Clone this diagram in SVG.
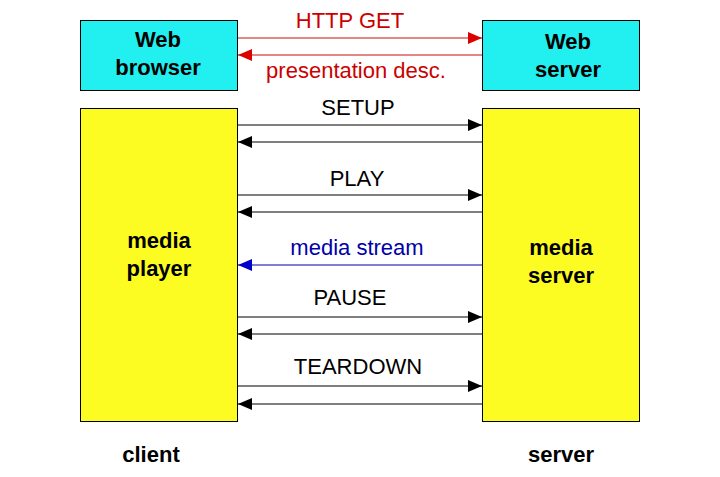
<svg xmlns="http://www.w3.org/2000/svg" width="720" height="477" viewBox="0 0 720 477">
<defs>
<style>
.box{stroke:#000;stroke-width:1}
.cyan{fill:#22F0F0}
.yel{fill:#FCFC22}
.bl{font-family:"Liberation Sans",Arial,sans-serif;font-weight:bold;font-size:22px;fill:#000;text-anchor:middle}
.lbl{font-family:"Liberation Sans",Arial,sans-serif;font-size:22px;text-anchor:middle}
.k{stroke:#000;stroke-width:1.2;fill:none}
.r{stroke:#CC1010;stroke-width:1.2;fill:none}
.b{stroke:#0000AA;stroke-width:1.2;fill:none}
</style>
<marker id="ak" viewBox="0 0 14 12" refX="14" refY="6" markerWidth="14" markerHeight="12" markerUnits="userSpaceOnUse" orient="auto"><path d="M0,0 L14,6 L0,12 Z" fill="#000"/></marker>
<marker id="ar" viewBox="0 0 14 12" refX="14" refY="6" markerWidth="14" markerHeight="12" markerUnits="userSpaceOnUse" orient="auto"><path d="M0,0 L14,6 L0,12 Z" fill="#DD0000"/></marker>
<marker id="ab" viewBox="0 0 14 12" refX="14" refY="6" markerWidth="14" markerHeight="12" markerUnits="userSpaceOnUse" orient="auto"><path d="M0,0 L14,6 L0,12 Z" fill="#0000CC"/></marker>
</defs>
<rect width="720" height="477" fill="#fff"/>
<g id="web-browser"><rect class="box cyan" x="80.5" y="20.5" width="157" height="70"/><text class="bl" x="158" y="47">Web</text><text class="bl" x="158" y="75">browser</text></g>
<g id="web-server"><rect class="box cyan" x="482.5" y="20.5" width="157" height="70"/><text class="bl" x="568" y="49">Web</text><text class="bl" x="568" y="77">server</text></g>
<g id="media-player"><rect class="box yel" x="80.5" y="108.5" width="157" height="313"/><text class="bl" x="159" y="248">media</text><text class="bl" x="159" y="276">player</text></g>
<g id="media-server"><rect class="box yel" x="482.5" y="108.5" width="157" height="313"/><text class="bl" x="561" y="255">media</text><text class="bl" x="561" y="283">server</text></g>
<g id="client"><text class="bl" x="151" y="462">client</text></g>
<g id="server"><text class="bl" x="561" y="462">server</text></g>
<g id="connectors">
<line class="r" x1="238" y1="38" x2="482" y2="38" marker-end="url(#ar)"/>
<line class="r" x1="482" y1="55" x2="238" y2="55" marker-end="url(#ar)"/>
<line class="k" x1="238" y1="125" x2="482" y2="125" marker-end="url(#ak)"/>
<line class="k" x1="482" y1="142" x2="238" y2="142" marker-end="url(#ak)"/>
<line class="k" x1="238" y1="195" x2="482" y2="195" marker-end="url(#ak)"/>
<line class="k" x1="482" y1="212" x2="238" y2="212" marker-end="url(#ak)"/>
<line class="b" x1="482" y1="265" x2="238" y2="265" marker-end="url(#ab)"/>
<line class="k" x1="238" y1="317" x2="482" y2="317" marker-end="url(#ak)"/>
<line class="k" x1="482" y1="334" x2="238" y2="334" marker-end="url(#ak)"/>
<line class="k" x1="238" y1="386" x2="482" y2="386" marker-end="url(#ak)"/>
<line class="k" x1="482" y1="404" x2="238" y2="404" marker-end="url(#ak)"/>
<text class="lbl" x="350" y="28" fill="#CC0000">HTTP GET</text>
<text class="lbl" x="356" y="78" fill="#CC0000">presentation desc.</text>
<text class="lbl" x="358" y="115" fill="#000">SETUP</text>
<text class="lbl" x="357" y="186" fill="#000">PLAY</text>
<text class="lbl" x="357" y="255" fill="#0000AA">media stream</text>
<text class="lbl" x="350" y="305" fill="#000">PAUSE</text>
<text class="lbl" x="358" y="374" fill="#000">TEARDOWN</text>
</g>
</svg>
